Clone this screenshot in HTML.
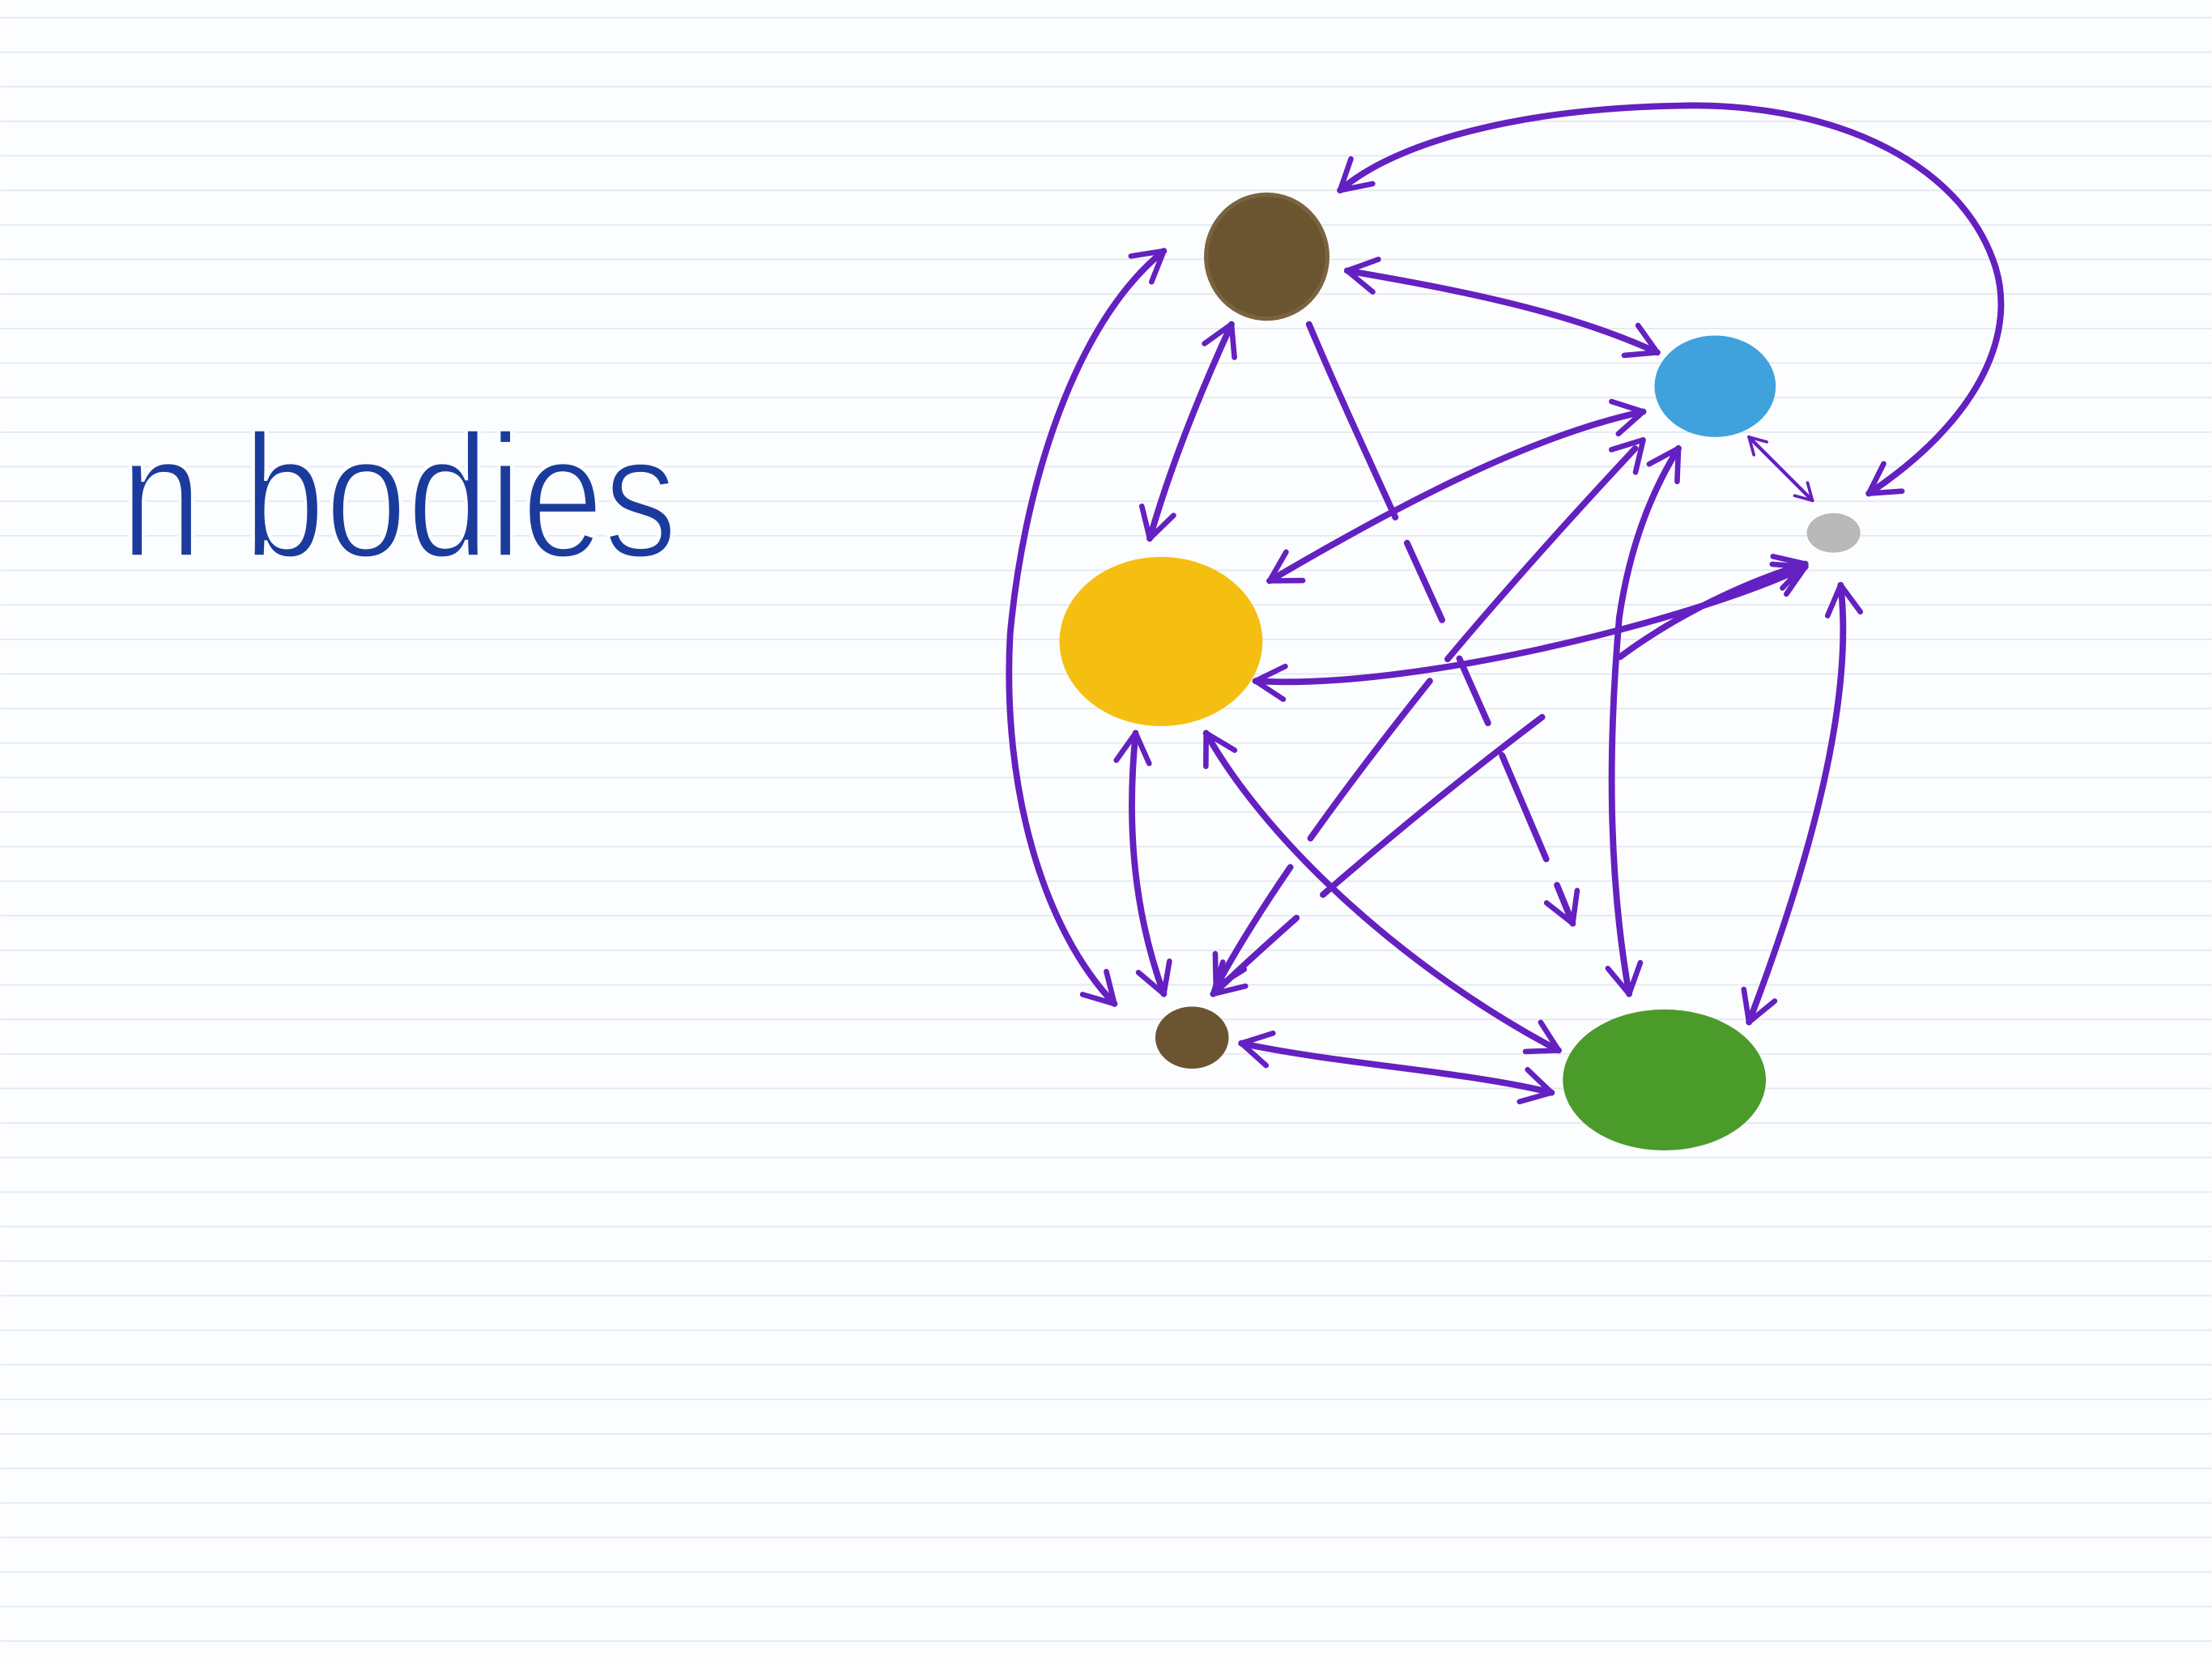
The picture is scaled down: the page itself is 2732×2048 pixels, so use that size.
<!DOCTYPE html>
<html><head><meta charset="utf-8">
<style>
html,body{margin:0;padding:0;background:#fdfdfe;}
svg{display:block;}
</style></head>
<body>
<svg width="2732" height="2048" viewBox="0 0 1568 1176" xmlns="http://www.w3.org/2000/svg">
<defs>
<pattern id="lines" x="0" y="12" width="1568" height="24.5" patternUnits="userSpaceOnUse">
<rect width="1568" height="1" fill="#e3e7ee"/>
</pattern>
<marker id="ah" viewBox="0 0 20 20" refX="16" refY="10" markerWidth="6.5" markerHeight="6.5" markerUnits="strokeWidth" orient="auto-start-reverse">
<path d="M2,2 L16,10 L2,18" fill="none" stroke="#6420c0" stroke-width="2.6" stroke-linecap="round" stroke-linejoin="round"/>
</marker>
</defs>
<rect width="1568" height="1176" fill="#fcfdff"/>
<rect width="1568" height="1176" fill="url(#lines)"/>

<text x="85" y="395" font-family="Liberation Sans, sans-serif" font-size="125" fill="#1b3b9c" stroke="#fcfdff" stroke-width="3" paint-order="normal" textLength="395" lengthAdjust="spacingAndGlyphs">n bodies</text>

<g fill="none" stroke="#6420c0" stroke-width="4.5" stroke-linecap="round" marker-start="url(#ah)" marker-end="url(#ah)">
<path d="M1325,350 C1400,300 1430,240 1415,190 C1390,110 1290,72 1190,75 C1080,77 990,100 950,135"/>
<path d="M955,192 C1030,205 1110,220 1175,250"/>
<path d="M873,230 C850,280 830,330 815,382"/>
<path d="M825,178 C760,230 725,350 716,450 C710,560 740,660 790,712"/>
<path d="M900,412 C980,365 1080,310 1165,292"/>
<path d="M890,483 C1000,490 1200,440 1280,402"/>
<path d="M805,520 C798,590 805,650 825,705"/>
<path d="M855,520 C900,600 1000,690 1105,745"/>
<path d="M880,740 C950,755 1040,760 1100,775"/>
<path d="M1240,310 L1285,355" stroke-width="2.5"/>
<path d="M1305,415 C1315,500 1280,620 1240,725"/>
<path d="M1155,705 C1140,620 1140,530 1148,438 C1155,390 1170,350 1190,318"/>
<path d="M928,230 C970,330 1040,470 1115,655" stroke-dasharray="150,20,60,30,50,25,80,20" marker-start="none"/>
<path d="M862,700 C900,630 960,550 1020,475 C1070,415 1120,360 1165,312" stroke-dasharray="100,25,140,20,200"/>
<path d="M860,705 C950,620 1050,540 1125,485 C1170,445 1230,415 1280,400" stroke-dasharray="80,25,200,70,160"/>
</g>

<ellipse cx="898" cy="182" rx="43" ry="44" fill="#6b5531" stroke="#7a6440" stroke-width="3"/>
<ellipse cx="1216" cy="274" rx="43" ry="36" fill="#3fa2dc"/>
<ellipse cx="1300" cy="378" rx="19" ry="14" fill="#b9b9b9"/>
<ellipse cx="823" cy="455" rx="72" ry="60" fill="#f5bf12"/>
<ellipse cx="845" cy="736" rx="26" ry="22" fill="#6b5531"/>
<ellipse cx="1180" cy="766" rx="72" ry="50" fill="#4b9b2b"/>
</svg>
</body></html>
